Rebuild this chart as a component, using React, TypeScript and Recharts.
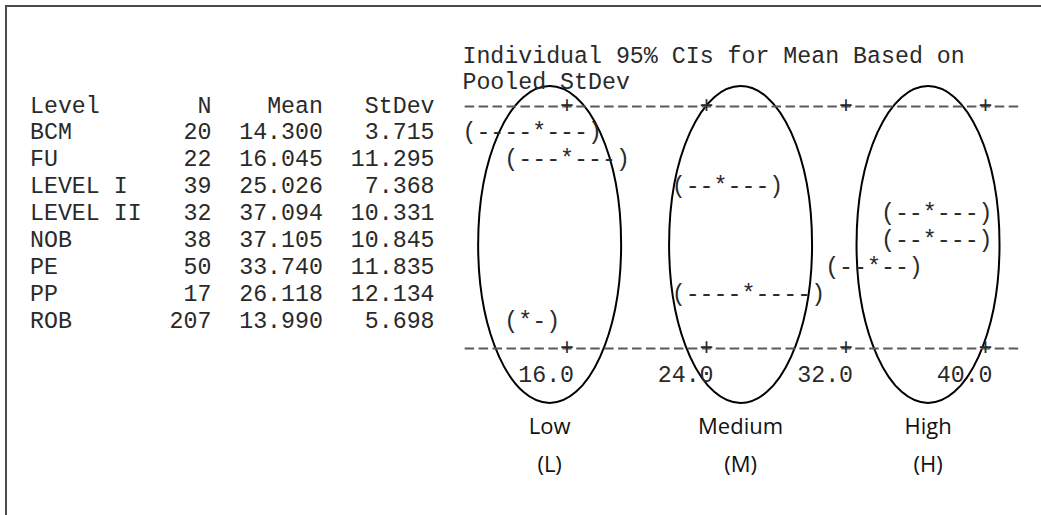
import React from 'react';
import { ComposedChart, Bar, XAxis, YAxis, ReferenceArea } from 'recharts';

// ---------- data ----------
const levels = ['BCM', 'FU', 'LEVEL I', 'LEVEL II', 'NOB', 'PE', 'PP', 'ROB'];
const counts = [20, 22, 39, 32, 38, 50, 17, 207];
const means = [14.3, 16.045, 25.026, 37.094, 37.105, 33.74, 26.118, 13.99];
const stDevs = [3.715, 11.295, 7.368, 10.331, 10.845, 11.835, 12.134, 5.698];
// 95% CI bounds
const ciLower = [10.66, 12.57, 22.42, 34.22, 34.47, 31.44, 22.17, 12.86];
const ciUpper = [17.94, 19.51, 27.63, 39.97, 39.75, 36.04, 30.06, 15.12];
const axisTicks = [16, 24, 32, 40];
const headers = ['Level', 'N', 'Mean', 'StDev'];
const titleLines = ['Individual 95% CIs for Mean Based on', 'Pooled StDev'];
const groupNames = ['Low', 'Medium', 'High'];
const groupCodes = ['(L)', '(M)', '(H)'];
const groupFrom = [10.9, 21.85, 32.6];
const groupTo = [19.1, 30.05, 40.8];

const rows = levels.map((lv, i) => ({
  level: lv,
  n: counts[i],
  mean: means[i],
  sd: stDevs[i],
  range: [ciLower[i], ciUpper[i]],
}));

// ---------- layout ----------
const W = 1041;
const H = 515;
const MONO = '"Liberation Mono", "Courier New", monospace';
const SANS = '"Open Sans", "Noto Sans", sans-serif';
const FS = 23.25;
const CW = FS * 0.6;
const GX = 30;
const colX = (c: number) => GX + c * CW;
const ROW0 = 106.5;
const LH = 26.9;
const TOP_AXIS_Y = ROW0;
const BOT_AXIS_Y = ROW0 + 9 * LH;
const PLOT_LEFT = colX(31);
const PLOT_RIGHT = colX(71);
const TEXT = '#2a2a2a';
const DASH = '#5a5a5a';
const ELL_TOP = 86;
const ELL_BOTTOM = 403;
const TITLE_Y = [56.5, 83];

const dashOffset = 9.5 + (4.45 - 2.2);

const TableTick = (props: any) => {
  const { y, payload } = props;
  const i = levels.indexOf(payload.value);
  if (i < 0) return null;
  return (
    <g fontFamily={MONO} fontSize={FS} fill={TEXT}>
      <text x={colX(0)} y={y} dominantBaseline="central">{levels[i]}</text>
      <text x={colX(13)} y={y} textAnchor="end" dominantBaseline="central">{counts[i]}</text>
      <text x={colX(21)} y={y} textAnchor="end" dominantBaseline="central">{means[i].toFixed(3)}</text>
      <text x={colX(29)} y={y} textAnchor="end" dominantBaseline="central">{stDevs[i].toFixed(3)}</text>
    </g>
  );
};

const TopTick = (props: any) => {
  const { x } = props;
  return (
    <text x={x} y={TOP_AXIS_Y} textAnchor="middle" dominantBaseline="central" fontFamily={MONO} fontSize={FS} fill={TEXT}>+</text>
  );
};

const BottomTick = (props: any) => {
  const { x, payload } = props;
  return (
    <g fontFamily={MONO} fontSize={FS} fill={TEXT}>
      <text x={x} y={BOT_AXIS_Y} textAnchor="middle" dominantBaseline="central">+</text>
      <text x={x + CW / 2} y={BOT_AXIS_Y + LH} textAnchor="end" dominantBaseline="central">{Number(payload.value).toFixed(1)}</text>
    </g>
  );
};

const CiShape = (props: any) => {
  const { x, y, width, height, payload } = props;
  if (!payload) return null;
  const lo = payload.range[0];
  const hi = payload.range[1];
  const pxMean = x + (width * (payload.mean - lo)) / (hi - lo);
  const toCol = (px: number) => Math.round((px - GX) / CW - 0.5);
  const cl = toCol(x);
  const cm = toCol(pxMean);
  const ch = toCol(x + width);
  const s = '(' + '-'.repeat(Math.max(0, cm - cl - 1)) + '*' + '-'.repeat(Math.max(0, ch - cm - 1)) + ')';
  return (
    <text x={colX(cl)} y={y + height / 2} dominantBaseline="central" fontFamily={MONO} fontSize={FS} fill={TEXT}>{s}</text>
  );
};

const makeEllipse = (i: number) => (props: any) => {
  const { x, width } = props;
  const cx = x + width / 2;
  const rx = width / 2;
  const cy = (ELL_TOP + ELL_BOTTOM) / 2;
  const ry = (ELL_BOTTOM - ELL_TOP) / 2;
  return (
    <g>
      <ellipse cx={cx} cy={cy} rx={rx} ry={ry} fill="none" stroke="#000" strokeWidth={2} />
      <text x={cx} y={425} textAnchor="middle" dominantBaseline="central" fontFamily={SANS} fontSize={22} fill="#111">{groupNames[i]}</text>
      <text x={cx} y={463} textAnchor="middle" dominantBaseline="central" fontFamily={SANS} fontSize={22} fill="#111">{groupCodes[i]}</text>
    </g>
  );
};

export default function App() {
  const topAxisH = 10;
  const botAxisH = 40;
  return (
    <div style={{ position: 'absolute', left: 0, top: 0, width: W, height: H, background: '#fff' }}>
      <div
        style={{
          position: 'absolute',
          left: 5,
          top: 5,
          width: W - 5,
          height: H - 5,
          borderTop: '2px solid #4a4a4a',
          borderLeft: '2px solid #4a4a4a',
          boxSizing: 'border-box',
        }}
      />
      <div style={{ position: 'absolute', left: 0, top: 0 }}>
        <ComposedChart
          width={W}
          height={H}
          data={rows}
          layout="vertical"
          barCategoryGap={0}
          margin={{ top: TOP_AXIS_Y - topAxisH, right: W - PLOT_RIGHT, bottom: H - BOT_AXIS_Y - botAxisH, left: 0 }}
        >
          <XAxis
            xAxisId="top"
            orientation="top"
            type="number"
            domain={[10, 42]}
            ticks={axisTicks}
            interval={0}
            height={topAxisH}
            allowDataOverflow
            tickLine={false}
            axisLine={{ stroke: DASH, strokeWidth: 2, strokeDasharray: '9.5 4.45', strokeDashoffset: dashOffset }}
            tick={<TopTick />}
          />
          <XAxis
            xAxisId="bottom"
            orientation="bottom"
            type="number"
            domain={[10, 42]}
            ticks={axisTicks}
            interval={0}
            height={botAxisH}
            allowDataOverflow
            tickLine={false}
            axisLine={{ stroke: DASH, strokeWidth: 2, strokeDasharray: '9.5 4.45', strokeDashoffset: dashOffset }}
            tick={<BottomTick />}
          />
          <YAxis
            type="category"
            dataKey="level"
            width={PLOT_LEFT}
            axisLine={false}
            tickLine={false}
            interval={0}
            padding={{ top: LH / 2, bottom: LH / 2 }}
            tick={<TableTick />}
          />
          {groupNames.map((g, i) => (
            <ReferenceArea
              key={g}
              xAxisId="bottom"
              x1={groupFrom[i]}
              x2={groupTo[i]}
              ifOverflow="visible"
              shape={makeEllipse(i)}
            />
          ))}
          <Bar xAxisId="bottom" dataKey="range" isAnimationActive={false} shape={<CiShape />} />
        </ComposedChart>
      </div>
      <svg
        width={W}
        height={H}
        style={{ position: 'absolute', left: 0, top: 0, pointerEvents: 'none' }}
      >
        <g fontFamily={MONO} fontSize={FS} fill={TEXT}>
          {titleLines.map((t, i) => (
            <text key={t} x={colX(31)} y={TITLE_Y[i]} dominantBaseline="central" xmlSpace="preserve">{t}</text>
          ))}
          <text x={colX(0)} y={ROW0} dominantBaseline="central">{headers[0]}</text>
          <text x={colX(13)} y={ROW0} textAnchor="end" dominantBaseline="central">{headers[1]}</text>
          <text x={colX(21)} y={ROW0} textAnchor="end" dominantBaseline="central">{headers[2]}</text>
          <text x={colX(29)} y={ROW0} textAnchor="end" dominantBaseline="central">{headers[3]}</text>
        </g>
      </svg>
    </div>
  );
}
